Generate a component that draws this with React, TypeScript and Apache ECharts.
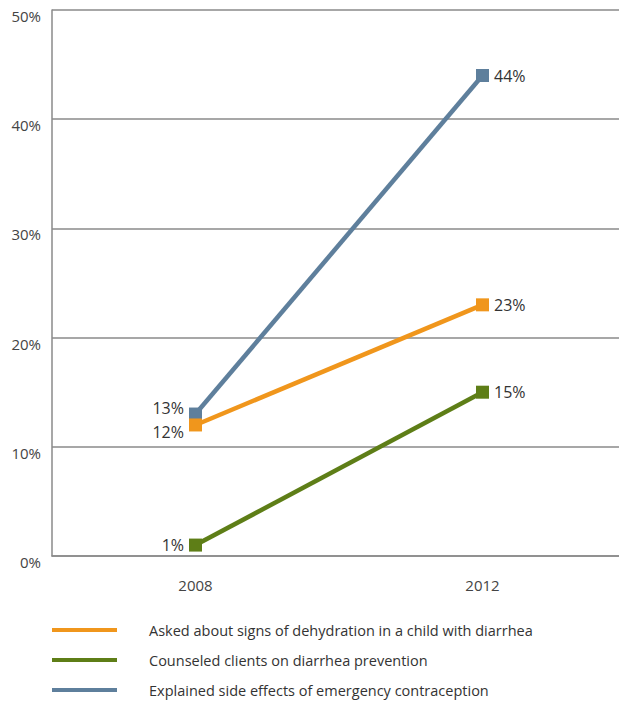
import React, { useEffect, useRef } from "react";
import * as echarts from "echarts";

const years = ["2008", "2012"];
const yTicks = [0, 10, 20, 30, 40, 50];

const dehydrationName = "Asked about signs of dehydration in a child with diarrhea";
const preventionName = "Counseled clients on diarrhea prevention";
const contraceptionName = "Explained side effects of emergency contraception";

const dehydrationValues = [12, 23];
const preventionValues = [1, 15];
const contraceptionValues = [13, 44];

const ORANGE = "#F0961C";
const GREEN = "#5E7E17";
const BLUE = "#5E7F9C";
const FONT = "Open Sans";

// Chart canvas is a bit wider than the visible page so the grid lines run off the right edge.
const CHART_W = 630;
const CHART_H = 702;

function buildSeries(
  name: string,
  values: number[],
  color: string,
  firstLabelOffset: number[]
) {
  return {
    name,
    type: "line",
    data: values.map((v, i) => ({
      value: v,
      label: {
        position: i === 0 ? "left" : "right",
        offset: i === 0 ? firstLabelOffset : [0, 0],
      },
    })),
    symbol: "rect",
    symbolSize: 13,
    lineStyle: { color, width: 4.5 },
    itemStyle: { color },
    label: {
      show: true,
      formatter: "{c}%",
      fontFamily: FONT,
      fontSize: 16,
      color: "#333",
      distance: 5,
    },
  };
}

export default function App() {
  const ref = useRef<HTMLDivElement>(null);

  useEffect(() => {
    if (!ref.current) return;
    const chart = echarts.init(ref.current, undefined, { renderer: "svg" });
    chart.setOption({
      animation: false,
      backgroundColor: "#ffffff",
      grid: { left: 52, right: CHART_W - 626, top: 10, bottom: CHART_H - 556, containLabel: false },
      xAxis: {
        type: "category",
        data: years,
        boundaryGap: true,
        axisTick: { show: false },
        axisLine: { show: true, lineStyle: { color: "#8a8a8a", width: 1.5 } },
        axisLabel: { margin: 21, fontFamily: FONT, fontSize: 15, color: "#444" },
      },
      yAxis: {
        type: "value",
        min: yTicks[0],
        max: yTicks[yTicks.length - 1],
        interval: 10,
        axisLine: { show: true, lineStyle: { color: "#8a8a8a", width: 1.5 } },
        axisTick: { show: false },
        splitLine: { show: true, lineStyle: { color: "#8a8a8a", width: 1.5 } },
        axisLabel: {
          formatter: "{value}%",
          margin: 11,
          fontFamily: FONT,
          fontSize: 15,
          color: "#444",
          verticalAlign: "top",
          lineHeight: 12,
        },
      },
      legend: {
        orient: "vertical",
        left: 52,
        top: 620,
        padding: 0,
        itemWidth: 65,
        itemHeight: 4,
        itemGap: 10,
        icon: "rect",
        data: [dehydrationName, preventionName, contraceptionName],
        textStyle: {
          fontFamily: FONT,
          fontSize: 14.5,
          color: "#333",
          lineHeight: 20,
          padding: [0, 0, 0, 27],
        },
      },
      series: [
        buildSeries(contraceptionName, contraceptionValues, BLUE, [0, -6]),
        buildSeries(preventionName, preventionValues, GREEN, [0, 0]),
        buildSeries(dehydrationName, dehydrationValues, ORANGE, [0, 7]),
      ],
    });
    return () => chart.dispose();
  }, []);

  return (
    <div
      style={{
        position: "absolute",
        left: 0,
        top: 0,
        width: 619,
        height: CHART_H,
        overflow: "hidden",
      }}
    >
      <div ref={ref} style={{ width: CHART_W, height: CHART_H }} />
    </div>
  );
}
